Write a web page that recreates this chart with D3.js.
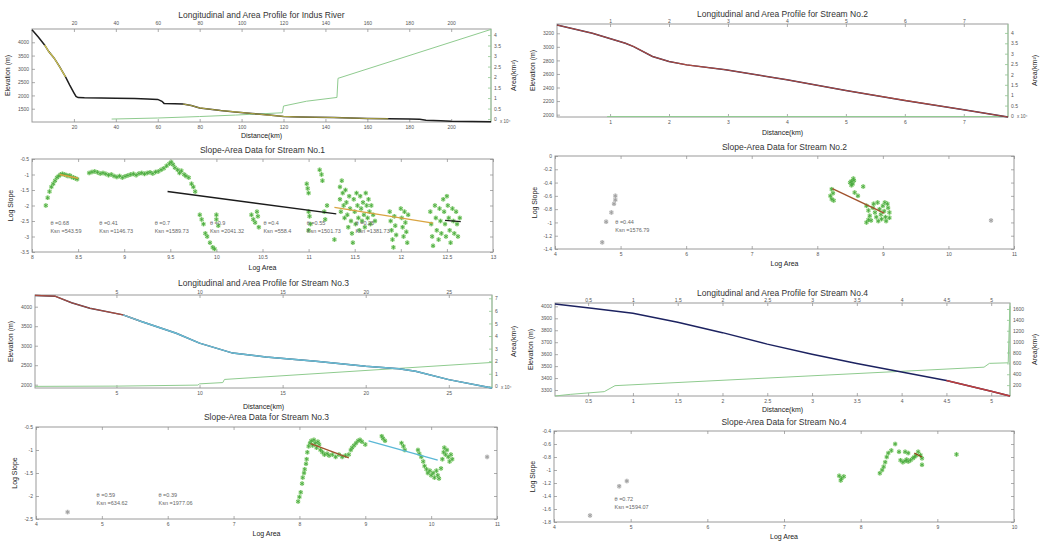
<!DOCTYPE html>
<html>
<head>
<meta charset="utf-8">
<script src="https://cdn.jsdelivr.net/npm/d3@7"></script>
<style>
  body { margin: 0; background: #fff; }
  svg { display: block; font-family: 'Liberation Sans', Arial, sans-serif; }
</style>
</head>
<body>
<svg id="chart" width="1048" height="541"></svg>
<script>
// ---- Indus River profile
const indusDist = [0, 3, 6, 8, 10.5, 13, 16, 18, 20, 21, 22, 25, 33, 40, 49, 55, 60, 62, 63, 68, 72, 76, 80, 85, 90, 97, 105, 113, 120, 128, 135, 144, 152, 160, 170, 180, 185, 188, 195, 200, 210, 219];
const indusElev = [4470, 4200, 3900, 3650, 3410, 3100, 2700, 2390, 2100, 1960, 1920, 1910, 1900, 1890, 1880, 1870, 1850, 1780, 1700, 1690, 1680, 1620, 1530, 1480, 1430, 1380, 1320, 1260, 1210, 1190, 1180, 1170, 1150, 1130, 1120, 1110, 1100, 1070, 1050, 1030, 1020, 1010];
const indusAreaDist = [38, 60, 80, 97, 119.5, 120, 131, 145.5, 146, 219];
const indusArea = [0, 0.05, 0.12, 0.19, 0.3, 0.62, 0.85, 1.03, 1.94, 4.27];
const indusDistTicks = [20, 40, 60, 80, 100, 120, 140, 160, 180, 200];
const indusElevTicks = [1500, 2000, 2500, 3000, 3500, 4000];
const indusAreaTicks = [0, 0.5, 1, 1.5, 2, 2.5, 3, 3.5, 4];

// ---- Stream No.2 profile
const s2Dist = [0.1, 0.7, 1.26, 1.4, 1.72, 2.0, 2.3, 2.96, 4, 5, 6, 7, 7.75];
const s2Elev = [3322, 3200, 3053, 3004, 2857, 2784, 2734, 2661, 2514, 2357, 2210, 2073, 1965];
const s2AreaDist = [0.95, 7.7];
const s2Area = [-0.03, -0.03];
const s2DistTicks = [1, 2, 3, 4, 5, 6, 7];
const s2ElevTicks = [2000, 2200, 2400, 2600, 2800, 3000, 3200];
const s2AreaTicks = [0, 0.5, 1, 1.5, 2, 2.5, 3, 3.5, 4];

// ---- Stream No.3 profile
const s3Dist = [0.1, 1.3, 2.3, 3.4, 5.4, 6.5, 8.6, 10, 12, 14, 17, 20, 22, 23, 25, 27.6];
const s3Elev = [4290, 4270, 4100, 3960, 3790, 3620, 3320, 3065, 2810, 2710, 2600, 2470, 2410, 2345, 2130, 1915];
const s3AreaDist = [0.1, 5, 9.9, 10, 11.4, 11.5, 27.6];
const s3Area = [0, 0.02, 0.1, 0.2, 0.3, 0.55, 1.9];
const s3DistTicks = [5, 10, 15, 20, 25];
const s3ElevTicks = [2000, 2500, 3000, 3500, 4000];
const s3AreaTicks = [0, 1, 2, 3, 4, 5, 6, 7];

// ---- Stream No.4 profile
const s4Dist = [0.13, 0.54, 1.0, 1.5, 2.0, 2.5, 3.0, 3.5, 4.0, 4.5, 5.0, 5.21];
const s4Elev = [4020, 3985, 3943, 3867, 3780, 3684, 3600, 3521, 3450, 3380, 3290, 3250];
const s4AreaDist = [0.13, 0.3, 0.68, 0.8, 4.92, 4.98, 5.19, 5.2, 5.21];
const s4Area = [0, 30, 80, 190, 530, 600, 610, 1200, 1650];
const s4DistTicks = [0.5, 1, 1.5, 2, 2.5, 3, 3.5, 4, 4.5, 5];
const s4ElevTicks = [3300, 3400, 3500, 3600, 3700, 3800, 3900, 4000];
const s4AreaTicks = [200, 400, 600, 800, 1000, 1200, 1400, 1600];

// ---- Slope-area data (log area, log slope)
const slope1Points = [
  [8.15,-2.0],[8.17,-1.75],[8.19,-1.55],[8.21,-1.4],[8.23,-1.3],[8.25,-1.2],[8.27,-1.1],[8.29,-1.05],[8.31,-1.0],[8.33,-0.98],
  [8.35,-1.0],[8.37,-1.02],[8.39,-1.05],[8.41,-1.03],[8.43,-1.08],[8.45,-1.1],[8.47,-1.12],[8.49,-1.15],
  [8.62,-0.95],[8.65,-0.92],[8.68,-0.9],[8.71,-0.93],[8.74,-0.97],[8.77,-0.95],[8.8,-0.98],[8.83,-1.02],[8.86,-1.0],[8.89,-1.05],
  [8.92,-1.08],[8.95,-1.05],[8.98,-1.1],[9.01,-1.06],[9.04,-1.03],[9.07,-1.0],[9.1,-0.98],[9.13,-1.02],[9.16,-0.97],[9.19,-0.95],
  [9.22,-0.98],[9.25,-0.95],[9.28,-0.93],[9.31,-0.97],[9.34,-0.92],[9.37,-0.9],[9.4,-0.85],[9.43,-0.8],[9.46,-0.72],[9.49,-0.65],
  [9.51,-0.6],[9.53,-0.68],[9.55,-0.78],[9.58,-0.85],[9.6,-0.95],[9.62,-0.88],[9.65,-1.0],[9.67,-1.05],[9.7,-1.1],[9.73,-1.3],
  [9.75,-1.4],[9.77,-1.55],[9.82,-2.3],[9.84,-2.45],[9.86,-2.6],[9.88,-2.9],[9.9,-3.0],[9.93,-3.2],[9.96,-3.35],[9.98,-3.4],
  [10.0,-2.3],[10.0,-2.45],[10.02,-2.65],[10.38,-2.3],[10.4,-2.45],[10.42,-2.55],[10.44,-2.2],[10.45,-2.35],[10.46,-2.7],
  [10.98,-1.3],[10.99,-1.45],[11.0,-1.6],[11.0,-2.2],[11.01,-2.35],[11.02,-2.6],[11.0,-2.8],[11.12,-0.85],[11.14,-1.0],[11.15,-1.2],
  [11.17,-2.2],[11.18,-2.45],[11.2,-2.0],[11.28,-3.1],
  [11.34,-1.4],[11.34,-1.8],[11.35,-2.2],[11.36,-1.2],[11.37,-1.6],[11.38,-2.0],[11.39,-2.4],[11.4,-1.5],[11.41,-1.9],[11.42,-2.3],
  [11.43,-2.7],[11.44,-1.7],[11.45,-2.1],[11.46,-2.5],[11.47,-2.9],[11.48,-3.2],[11.49,-1.8],[11.5,-2.2],[11.51,-2.6],[11.52,-1.6],
  [11.53,-2.0],[11.54,-2.4],[11.55,-2.8],[11.56,-1.7],[11.57,-2.1],[11.58,-2.5],[11.59,-1.9],[11.6,-2.3],[11.61,-2.7],[11.62,-1.6],
  [11.63,-2.0],[11.64,-2.4],[11.65,-1.8],[11.66,-2.2],[11.67,-2.6],[11.68,-2.0],[11.7,-2.3],[11.72,-2.5],
  [11.88,-2.2],[11.89,-2.5],[11.9,-2.8],[11.91,-3.1],[11.92,-3.35],[11.93,-2.35],[11.94,-2.65],[11.95,-2.95],[12.0,-2.1],[12.01,-2.4],
  [12.02,-2.7],[12.03,-3.0],[12.04,-2.2],[12.05,-2.55],[12.06,-2.85],[12.07,-3.2],[12.08,-2.3],
  [12.32,-2.2],[12.33,-2.6],[12.34,-3.0],[12.35,-3.3],[12.37,-2.0],[12.38,-2.4],[12.39,-2.8],[12.41,-3.1],[12.42,-2.1],[12.43,-2.5],
  [12.44,-2.9],[12.46,-1.8],[12.47,-2.2],[12.48,-2.6],[12.49,-3.0],[12.5,-1.7],[12.51,-2.0],[12.52,-2.4],[12.53,-2.8],[12.54,-3.2],
  [12.56,-2.1],[12.57,-2.5],[12.58,-2.9],[12.6,-2.2],[12.61,-2.6],[12.62,-3.0],[12.64,-2.4]
];
const slope1Fits = [
  { color: '#d9a441', pts: [[8.3,-1.0],[8.5,-1.12]] },
  { color: '#1b1b1b', pts: [[9.47,-1.55],[11.3,-2.27]] },
  { color: '#d9a441', pts: [[11.28,-2.06],[12.35,-2.57]] },
  { color: '#1b1b1b', pts: [[12.48,-2.48],[12.65,-2.52]] }
];
const slope1Labels = [
  { x: 8.2, theta: '0.68', ksn: '543.59' },
  { x: 8.73, theta: '0.41', ksn: '1146.73' },
  { x: 9.33, theta: '0.7', ksn: '1589.73' },
  { x: 9.93, theta: '0.9', ksn: '2041.32' },
  { x: 10.51, theta: '0.4', ksn: '558.4' },
  { x: 10.98, theta: '0.55', ksn: '1501.73' },
  { x: 11.51, theta: '0.25', ksn: '1381.73' }
];

const slope2Points = [
  [4.72,-1.3],[4.78,-0.99],[4.86,-0.85],[4.9,-0.72],[4.92,-0.6],[4.92,-0.66],
  [8.2,-0.6],[8.22,-0.5],[8.24,-0.56],[8.22,-0.65],[8.25,-0.67],
  [8.5,-0.4],[8.52,-0.38],[8.54,-0.42],[8.55,-0.34],[8.56,-0.37],[8.52,-0.44],[8.7,-0.46],[8.57,-0.55],[8.62,-0.6],
  [8.75,-0.75],[8.78,-0.82],[8.8,-0.9],[8.82,-0.97],[8.75,-1.0],[8.78,-0.96],[8.85,-0.78],[8.88,-0.85],[8.9,-0.92],[8.92,-0.7],
  [8.95,-0.8],[8.97,-0.88],[9.0,-0.75],[9.02,-0.83],[9.04,-0.92],[9.05,-0.98],[9.07,-0.72],[9.08,-0.78],[9.1,-0.85],[9.1,-0.93],
  [8.93,-0.98],[8.86,-0.72],[9.03,-0.7],[8.98,-0.95],
  [10.65,-0.97]
];
const slope2Fits = [{ color: '#a0522d', pts: [[8.23,-0.49],[9.02,-0.86]] }];
const slope2Labels = [{ x: 4.92, theta: '0.44', ksn: '1576.79' }];

const slope3Points = [
  [4.48,-2.35],[7.98,-2.12],[8.0,-2.02],[8.02,-1.92],[8.04,-1.73],[8.05,-1.6],[8.07,-1.5],[8.08,-1.42],[8.1,-1.3],[8.11,-1.2],
  [8.12,-1.05],[8.14,-0.92],[8.16,-0.85],[8.18,-0.8],[8.2,-0.9],[8.22,-0.78],[8.24,-0.85],[8.26,-0.95],[8.28,-0.82],[8.3,-0.88],
  [8.32,-1.0],[8.35,-1.05],[8.38,-1.1],[8.42,-1.08],[8.45,-1.12],[8.5,-1.1],[8.55,-1.15],[8.6,-1.1],[8.65,-1.15],[8.7,-1.12],
  [8.75,-1.1],[8.78,-1.0],[8.8,-0.95],[8.83,-0.9],[8.86,-0.85],[8.89,-0.8],[8.92,-0.78],[8.95,-0.82],[9.0,-0.88],[9.25,-0.7],
  [9.27,-0.75],[9.3,-0.8],[9.55,-0.85],[9.58,-0.92],[9.6,-1.0],[9.8,-1.0],[9.82,-1.08],[9.85,-1.15],[9.88,-1.25],[9.9,-1.35],
  [9.93,-1.42],[9.95,-1.5],[9.98,-1.45],[10.0,-1.55],[10.03,-1.5],[10.05,-1.6],[10.08,-1.45],[10.1,-1.55],[10.12,-1.62],[10.15,-1.4],
  [10.17,-1.2],[10.19,-1.05],[10.2,-0.95],[10.22,-1.1],[10.24,-1.0],[10.26,-1.15],[10.28,-1.25],[10.3,-1.1],[10.32,-1.2],[10.85,-1.15]
];
const slope3Fits = [
  { color: '#a0522d', pts: [[8.17,-0.86],[8.75,-1.17]] },
  { color: '#5bb8d6', pts: [[9.05,-0.8],[10.1,-1.22]] }
];
const slope3Labels = [
  { x: 4.92, theta: '0.59', ksn: '634.62' },
  { x: 5.86, theta: '0.39', ksn: '1977.06' }
];

const slope4Points = [
  [4.47,-1.7],[4.85,-1.25],[4.95,-1.17],[7.72,-1.09],[7.75,-1.13],[7.78,-1.1],[7.74,-1.16],
  [8.25,-1.05],[8.28,-1.0],[8.3,-0.95],[8.32,-0.88],[8.34,-0.8],[8.36,-0.74],[8.4,-0.7],[8.45,-0.6],[8.5,-0.72],
  [8.52,-0.85],[8.55,-0.88],[8.58,-0.86],[8.6,-0.84],[8.62,-0.87],[8.65,-0.85],[8.68,-0.82],[8.7,-0.8],[8.72,-0.78],
  [8.58,-0.72],[8.62,-0.74],[8.75,-0.72],[8.78,-0.77],[8.8,-0.82],[8.8,-0.92],[9.25,-0.76]
];
const slope4Fits = [{ color: '#8b4513', pts: [[8.7,-0.74],[8.8,-0.8]] }];
const slope4Labels = [{ x: 4.79, theta: '0.72', ksn: '1594.07' }];

const svg = d3.select('#chart');
const tickColor = '#8a8a8a';
const labelColor = '#555';
const plainFormat = d => String(d);

function styleAxis(g, showLabels) {
  g.select('.domain').remove();
  g.selectAll('.tick line').attr('stroke', tickColor).attr('stroke-width', 0.7);
  g.selectAll('.tick text')
    .attr('fill', labelColor)
    .style('font-size', '5px')
    .style('display', showLabels ? null : 'none');
}

function drawFrame(box, title, titleY, xlabel, xlabelY, ylabel, ylabelX) {
  svg.append('rect')
    .attr('x', box.x0).attr('y', box.y0)
    .attr('width', box.x1 - box.x0).attr('height', box.y1 - box.y0)
    .attr('fill', 'none').attr('stroke', '#9a9a9a').attr('stroke-width', 1);
  svg.append('text')
    .attr('x', (box.x0 + box.x1) / 2).attr('y', titleY)
    .attr('text-anchor', 'middle')
    .style('font-size', '8.5px').attr('fill', '#333')
    .text(title);
  svg.append('text')
    .attr('x', (box.x0 + box.x1) / 2).attr('y', xlabelY)
    .attr('text-anchor', 'middle')
    .style('font-size', '7px').attr('fill', '#222')
    .text(xlabel);
  svg.append('text')
    .attr('transform', `translate(${ylabelX}, ${(box.y0 + box.y1) / 2}) rotate(-90)`)
    .attr('text-anchor', 'middle')
    .style('font-size', '7px').attr('fill', '#222')
    .text(ylabel);
}

function drawProfile(cfg) {
  const box = cfg.box;
  const x = d3.scaleLinear().domain(cfg.xDomain).range([box.x0, box.x1]);
  const y = d3.scaleLinear().domain(cfg.yDomain).range([box.y1, box.y0]);
  const y2 = d3.scaleLinear().domain(cfg.y2Domain).range([box.y1, box.y0]);

  const line = d3.line().x(d => x(d[0])).y(d => y(d[1]));
  const line2 = d3.line().x(d => x(d[0])).y(d => y2(d[1]));

  drawFrame(box, cfg.title, cfg.titleY, 'Distance(km)', cfg.xlabelY, 'Elevation (m)', cfg.ylabelX);

  svg.append('g').attr('transform', `translate(0,${box.y1})`)
    .call(d3.axisBottom(x).tickValues(cfg.xTicks).tickFormat(plainFormat).tickSizeInner(-3).tickSizeOuter(0).tickPadding(3))
    .call(g => styleAxis(g, true));
  svg.append('g').attr('transform', `translate(0,${box.y0})`)
    .call(d3.axisTop(x).tickValues(cfg.xTicks).tickFormat(plainFormat).tickSizeInner(-3).tickSizeOuter(0).tickPadding(cfg.topPad))
    .call(g => styleAxis(g, true));
  svg.append('g').attr('transform', `translate(${box.x0},0)`)
    .call(d3.axisLeft(y).tickValues(cfg.yTicks).tickFormat(plainFormat).tickSizeInner(-3).tickSizeOuter(0).tickPadding(3))
    .call(g => styleAxis(g, true));
  svg.append('g').attr('transform', `translate(${box.x1},0)`)
    .call(d3.axisRight(y2).tickValues(cfg.y2Ticks).tickFormat(plainFormat).tickSizeInner(-3).tickSizeOuter(0).tickPadding(3))
    .call(g => styleAxis(g, true))
    .call(g => g.selectAll('.tick line').attr('stroke', '#7fbf7f'));
  svg.append('line')
    .attr('x1', box.x1).attr('x2', box.x1).attr('y1', box.y0).attr('y2', box.y1)
    .attr('stroke', '#9fcf9f').attr('stroke-width', 1);

  svg.append('text')
    .attr('transform', `translate(${cfg.y2labelX}, ${(box.y0 + box.y1) / 2}) rotate(-90)`)
    .attr('text-anchor', 'middle')
    .style('font-size', '7px').attr('fill', '#222')
    .text('Area(km²)');
  if (cfg.exp) {
    svg.append('text')
      .attr('x', box.x1 + 9).attr('y', box.y1 + 1)
      .style('font-size', '4.5px').attr('fill', labelColor)
      .text(cfg.exp);
  }

  const areaPts = d3.zip(cfg.areaDist, cfg.area);
  svg.append('path').datum(areaPts)
    .attr('d', line2).attr('fill', 'none')
    .attr('stroke', '#8fcb8f').attr('stroke-width', 1);

  const prof = d3.zip(cfg.dist, cfg.elev);
  svg.append('path').datum(prof)
    .attr('d', line).attr('fill', 'none')
    .attr('stroke', cfg.baseColor).attr('stroke-width', 1.5);
  cfg.overlays.forEach(o => {
    const seg = prof.filter(d => d[0] >= o.from && d[0] <= o.to);
    svg.append('path').datum(seg)
      .attr('d', line).attr('fill', 'none')
      .attr('stroke', o.color).attr('stroke-width', o.width || 1.1)
      .attr('stroke-opacity', o.opacity || 0.9);
  });
}

function drawSlope(cfg) {
  const box = cfg.box;
  const x = d3.scaleLinear().domain(cfg.xDomain).range([box.x0, box.x1]);
  const y = d3.scaleLinear().domain(cfg.yDomain).range([box.y1, box.y0]);

  drawFrame(box, cfg.title, cfg.titleY, 'Log Area', cfg.xlabelY, 'Log Slope', cfg.ylabelX);

  svg.append('g').attr('transform', `translate(0,${box.y1})`)
    .call(d3.axisBottom(x).tickValues(cfg.xTicks).tickFormat(plainFormat).tickSizeInner(-3).tickSizeOuter(0).tickPadding(3))
    .call(g => styleAxis(g, true));
  svg.append('g').attr('transform', `translate(0,${box.y0})`)
    .call(d3.axisTop(x).tickValues(cfg.xTicks).tickSizeInner(-3).tickSizeOuter(0))
    .call(g => styleAxis(g, false));
  svg.append('g').attr('transform', `translate(${box.x0},0)`)
    .call(d3.axisLeft(y).tickValues(cfg.yTicks).tickFormat(plainFormat).tickSizeInner(-3).tickSizeOuter(0).tickPadding(3))
    .call(g => styleAxis(g, true));
  svg.append('g').attr('transform', `translate(${box.x1},0)`)
    .call(d3.axisRight(y).tickValues(cfg.yTicks).tickSizeInner(-3).tickSizeOuter(0))
    .call(g => styleAxis(g, false));

  const isGray = d => cfg.outlierGray && (d[0] < 5 || d[0] > 10.6);
  const sym = d3.symbol().type(d3.symbolAsterisk).size(14);
  // soft halo, like the blurred markers of the source
  svg.append('g').selectAll('path')
    .data(cfg.points)
    .join('path')
    .attr('transform', d => `translate(${x(d[0])},${y(d[1])})`)
    .attr('d', sym)
    .attr('fill', 'none')
    .attr('stroke', d => isGray(d) ? '#dcdcdc' : '#c4ebb4')
    .attr('stroke-width', 2.4);
  svg.append('g').selectAll('path')
    .data(cfg.points)
    .join('path')
    .attr('transform', d => `translate(${x(d[0])},${y(d[1])})`)
    .attr('d', sym)
    .attr('fill', 'none')
    .attr('stroke', d => isGray(d) ? '#9a9a9a' : '#46a83c')
    .attr('stroke-width', 0.8);

  const line = d3.line().x(d => x(d[0])).y(d => y(d[1]));
  cfg.fits.forEach(f => {
    svg.append('path').datum(f.pts)
      .attr('d', line).attr('fill', 'none')
      .attr('stroke', f.color).attr('stroke-width', 1.4);
  });

  const lab = svg.append('g').selectAll('g').data(cfg.labels).join('g')
    .attr('transform', d => `translate(${x(d.x)},${y(cfg.labelY)})`);
  lab.append('text')
    .style('font-size', '5.5px').attr('fill', '#666')
    .text(d => `θ =${d.theta}`);
  lab.append('text')
    .attr('y', cfg.labelGap)
    .style('font-size', '5.5px').attr('fill', '#666')
    .text(d => `Ksn =${d.ksn}`);
}

drawProfile({
  box: { x0: 32, x1: 491, y0: 29, y1: 122 },
  xDomain: [0, 219], yDomain: [1000, 4500], y2Domain: [-0.14, 4.29],
  xTicks: indusDistTicks, yTicks: indusElevTicks, y2Ticks: indusAreaTicks,
  dist: indusDist, elev: indusElev, areaDist: indusAreaDist, area: indusArea,
  title: 'Longitudinal and Area Profile for Indus River', titleY: 18, topPad: 4,
  xlabelY: 137.5, ylabelX: 10, y2labelX: 516, exp: 'x 10⁴',
  baseColor: '#1e1e1e',
  overlays: [
    { from: 6, to: 16, color: '#e8dc5a', width: 1.2 },
    { from: 72, to: 172, color: '#d8cc50', width: 1.1, opacity: 0.75 }
  ]
});

drawSlope({
  box: { x0: 32, x1: 493, y0: 159, y1: 252 },
  xDomain: [8, 13], yDomain: [-3.5, -0.5],
  xTicks: [8, 8.5, 9, 9.5, 10, 10.5, 11, 11.5, 12, 12.5, 13],
  yTicks: [-3.5, -3, -2.5, -2, -1.5, -1, -0.5],
  points: slope1Points, fits: slope1Fits, labels: slope1Labels,
  labelY: -2.62, labelGap: 8,
  title: 'Slope-Area Data for Stream No.1', titleY: 153,
  xlabelY: 269.5, ylabelX: 13
});

drawProfile({
  box: { x0: 557, x1: 1008, y0: 24, y1: 117 },
  xDomain: [0.1, 7.75], yDomain: [1965, 3337], y2Domain: [-0.05, 4.43],
  xTicks: s2DistTicks, yTicks: s2ElevTicks, y2Ticks: s2AreaTicks,
  dist: s2Dist, elev: s2Elev, areaDist: s2AreaDist, area: s2Area,
  title: 'Longitudinal and Area Profile for Stream No.2', titleY: 17, topPad: 1,
  xlabelY: 134.5, ylabelX: 535, y2labelX: 1037, exp: 'x 10⁴',
  baseColor: '#2a2a55',
  overlays: [{ from: 0, to: 8, color: '#c8503a', width: 1.1, opacity: 0.85 }]
});

drawSlope({
  box: { x0: 555, x1: 1014, y0: 156, y1: 249 },
  xDomain: [4, 11], yDomain: [-1.4, 0],
  xTicks: [4, 5, 6, 7, 8, 9, 10, 11],
  yTicks: [-1.4, -1.2, -1, -0.8, -0.6, -0.4, -0.2, 0],
  points: slope2Points, fits: slope2Fits, labels: slope2Labels,
  labelY: -1.03, labelGap: 8, outlierGray: true,
  title: 'Slope-Area Data for Stream No.2', titleY: 150,
  xlabelY: 266, ylabelX: 537
});

drawProfile({
  box: { x0: 35, x1: 492, y0: 295, y1: 388 },
  xDomain: [0.1, 27.6], yDomain: [1915, 4300], y2Domain: [-0.13, 7.26],
  xTicks: s3DistTicks, yTicks: s3ElevTicks, y2Ticks: s3AreaTicks,
  dist: s3Dist, elev: s3Elev, areaDist: s3AreaDist, area: s3Area,
  title: 'Longitudinal and Area Profile for Stream No.3', titleY: 286, topPad: 1,
  xlabelY: 408.5, ylabelX: 13, y2labelX: 516, exp: 'x 10⁴',
  baseColor: '#333a55',
  overlays: [
    { from: 0, to: 6.5, color: '#c8503a', width: 1.1, opacity: 0.8 },
    { from: 5.4, to: 28, color: '#6cc4dc', width: 1.5, opacity: 0.95 }
  ]
});

drawSlope({
  box: { x0: 36, x1: 497, y0: 427, y1: 519 },
  xDomain: [4, 11], yDomain: [-2.5, -0.5],
  xTicks: [4, 5, 6, 7, 8, 9, 10, 11],
  yTicks: [-2.5, -2, -1.5, -1, -0.5],
  points: slope3Points, fits: slope3Fits, labels: slope3Labels,
  labelY: -2.02, labelGap: 8, outlierGray: true,
  title: 'Slope-Area Data for Stream No.3', titleY: 420,
  xlabelY: 536, ylabelX: 17
});

drawProfile({
  box: { x0: 555, x1: 1010, y0: 303, y1: 396 },
  xDomain: [0.13, 5.21], yDomain: [3250, 4028], y2Domain: [0, 1710],
  xTicks: s4DistTicks, yTicks: s4ElevTicks, y2Ticks: s4AreaTicks,
  dist: s4Dist, elev: s4Elev, areaDist: s4AreaDist, area: s4Area,
  title: 'Longitudinal and Area Profile for Stream No.4', titleY: 296, topPad: 1,
  xlabelY: 411.5, ylabelX: 533, y2labelX: 1037, exp: null,
  baseColor: '#1c2260',
  overlays: [{ from: 4.4, to: 5.3, color: '#c8403a', width: 1.4, opacity: 0.95 }]
});

drawSlope({
  box: { x0: 554, x1: 1014, y0: 431, y1: 522 },
  xDomain: [4, 10], yDomain: [-1.8, -0.4],
  xTicks: [4, 5, 6, 7, 8, 9, 10],
  yTicks: [-1.8, -1.6, -1.4, -1.2, -1, -0.8, -0.6, -0.4],
  points: slope4Points, fits: slope4Fits, labels: slope4Labels,
  labelY: -1.47, labelGap: 8, outlierGray: true,
  title: 'Slope-Area Data for Stream No.4', titleY: 425,
  xlabelY: 539, ylabelX: 535
});
</script>
</body>
</html>
